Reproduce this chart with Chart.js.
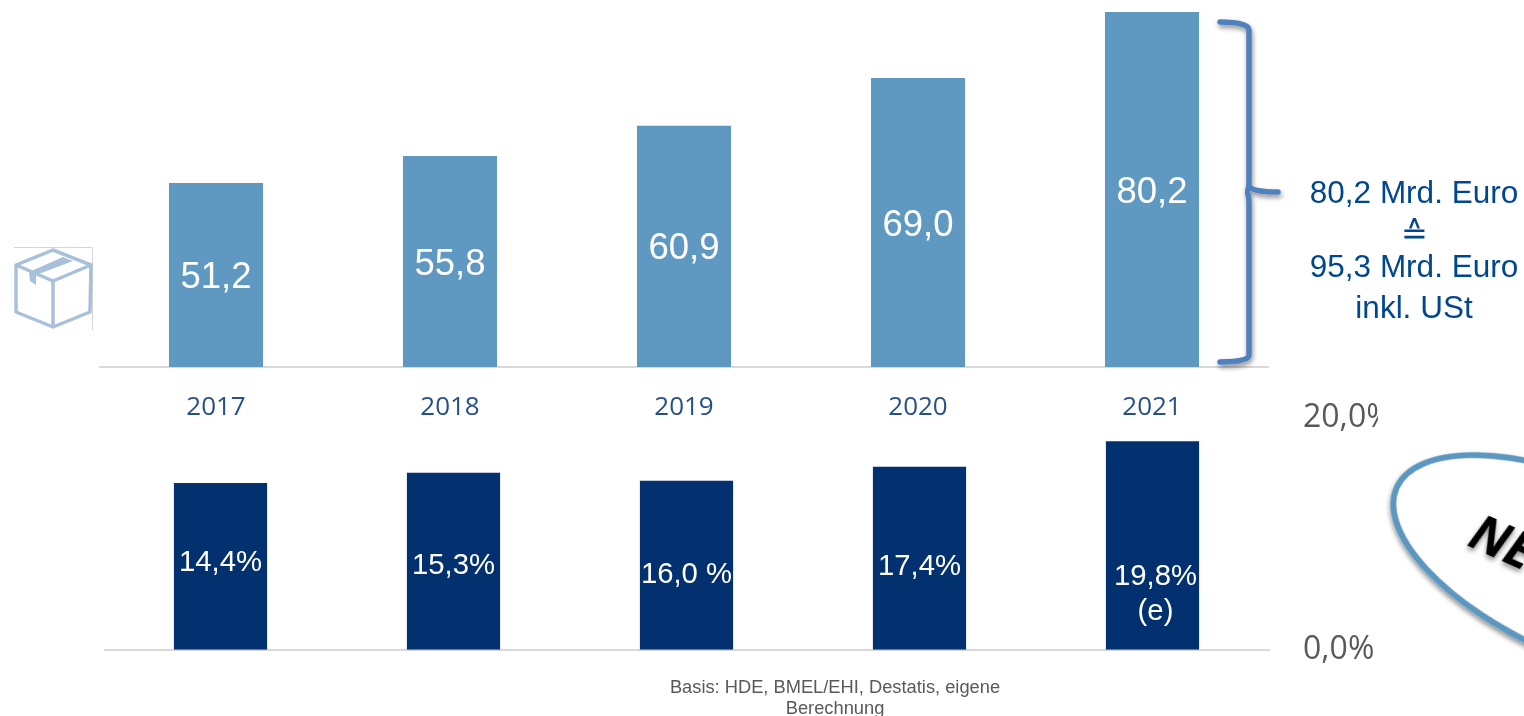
<!DOCTYPE html>
<html lang="de">
<head>
<meta charset="utf-8">
<title>Online-Handel</title>
<script src="https://cdn.jsdelivr.net/npm/chart.js@4"></script>
<style>
  html, body { margin: 0; background: #fff; overflow: hidden; }
  #page { position: relative; width: 1524px; height: 716px; overflow: hidden; }
  canvas { position: absolute; }
  svg { position: absolute; left: 0; top: 0; }
  .note { position: absolute; font-family: "Liberation Sans", Arial, sans-serif; text-align: center; white-space: nowrap; transform: translate(-50%, -50%); }
  .sum { color: #00478f; font-size: 31.5px; }
  .src { color: #595959; font-size: 18.3px; }
</style>
</head>
<body>
<div id="page">
  <canvas id="umsatz-chart" width="1170" height="430" style="left:99px;top:0"></canvas>
  <canvas id="anteil-chart" width="1274" height="338" style="left:104px;top:365px"></canvas>

  <svg width="1524" height="716" viewBox="0 0 1524 716">
    <defs>
      <filter id="schatten" x="-20%" y="-20%" width="140%" height="140%">
        <feDropShadow dx="1" dy="3" stdDeviation="2.5" flood-color="#000" flood-opacity="0.45"/>
      </filter>
    </defs>
    <!-- Klammer rechts -->
    <path d="M1220 22 Q1249 22 1249 30 L1249 182 Q1249 192 1245 192 Q1249 192 1249 202 L1249 355 Q1249 362 1220 362 M1249 186 Q1252 192 1278 192"
          fill="none" stroke="#4f81bd" stroke-width="5.5" stroke-linecap="round" filter="url(#schatten)"/>
    <!-- Paket -->
    <path d="M14 247.5 H92.5 V330" fill="none" stroke="#d4d4d4" stroke-width="1"/>
    <g fill="none" stroke="#a9c0da" stroke-width="3.5" stroke-linejoin="round">
      <path d="M16 265 L53 250 L91 265 L90 312 L53 327 L16 312 Z"/>
      <path d="M16 265 L53 281 L91 265 M53 281 V327"/>
    </g>
    <path d="M29 272 L63 257 L73 261 L36 275 V285 L30 281 Z" fill="#a9c0da"/>
    <!-- NEU-Stempel -->
    <ellipse cx="1584" cy="571" rx="205" ry="88" transform="rotate(24 1584 571)" fill="#fff" stroke="#5b97c0" stroke-width="6" filter="url(#schatten)"/>
    <text x="1466" y="545" transform="rotate(24 1466 545)" font-family="Open Sans" font-weight="700" font-style="italic" font-size="50" fill="#000" filter="url(#schatten)">NEW</text>
  </svg>

  <div class="note sum" style="left:1414px;top:192px">80,2 Mrd. Euro</div>
  <div class="note sum" style="left:1414px;top:233px;font-size:32px">≙</div>
  <div class="note sum" style="left:1414px;top:266px">95,3 Mrd. Euro</div>
  <div class="note sum" style="left:1414px;top:307px">inkl. USt</div>
  <div class="note src" style="left:835px;top:687px">Basis: HDE, BMEL/EHI, Destatis, eigene</div>
  <div class="note src" style="left:835px;top:708px">Berechnung</div>
</div>

<script>
var jahre = ['2017', '2018', '2019', '2020', '2021'];
var umsatz = [51.2, 55.8, 60.9, 69.0, 80.2];
var umsatzLabels = ['51,2', '55,8', '60,9', '69,0', '80,2'];
// die Balkenhoehen passen nicht ueberall zu den Beschriftungen, beides wie im Original
var anteil = [14.4, 15.3, 14.6, 15.8, 18.0];
var anteilLabels = ['14,4%', '15,3%', '16,0 %', '17,4%', '19,8%\n(e)'];
var anteilTicks = ['0,0%', '20,0%'];

// Verschiebung der Beschriftungen gegenueber der Balkenmitte
var anteilShiftY = [-7, 2, 7, 6, 28];
var anteilShiftX = [0, 0, 0, 0, 3];

// Beschriftung in den Balken
var balkenText = {
  id: 'balkenText',
  afterDatasetsDraw: function (chart) {
    var ds = chart.data.datasets[0];
    var ctx = chart.ctx;
    var unten = chart.chartArea.bottom; // bar.base liegt bei abgeschnittener Achse darunter
    ctx.save();
    ctx.fillStyle = '#fff';
    ctx.textAlign = 'center';
    ctx.textBaseline = 'middle';
    ctx.font = ds.textSize + 'px "Liberation Sans"';
    chart.getDatasetMeta(0).data.forEach(function (bar, i) {
      var y = (bar.y + unten) / 2 + 3 + (ds.shiftY ? ds.shiftY[i] : 0);
      var x = bar.x + (ds.shiftX ? ds.shiftX[i] : 0);
      ds.texts[i].split('\n').forEach(function (line, n) {
        ctx.fillText(line, x, y + n * 35);
      });
    });
    ctx.restore();
  }
};

var umsatzChart = new Chart(document.getElementById('umsatz-chart').getContext('2d'), {
  type: 'bar',
  data: {
    labels: jahre,
    datasets: [{
      data: umsatz,
      texts: umsatzLabels,
      textSize: 36.5,
      backgroundColor: '#5f99c2',
      categoryPercentage: 1,
      barPercentage: 0.402
    }]
  },
  plugins: [balkenText],
  options: {
    responsive: false,
    animation: false,
    layout: { padding: { top: 12 } },
    plugins: { legend: { display: false }, tooltip: { enabled: false } },
    scales: {
      x: {
        afterFit: function (s) { s.height = 63; },
        grid: { display: false },
        border: { color: '#d9d9d9', width: 2 },
        ticks: { color: '#27508a', font: { family: 'Open Sans', size: 26 }, padding: 17 }
      },
      y: { display: false, min: 20, max: 80.2 }
    }
  }
});

var anteilChart = new Chart(document.getElementById('anteil-chart').getContext('2d'), {
  type: 'bar',
  data: {
    labels: jahre,
    datasets: [{
      data: anteil,
      texts: anteilLabels,
      textSize: 29.3,
      shiftY: anteilShiftY,
      shiftX: anteilShiftX,
      backgroundColor: '#03306f',
      categoryPercentage: 1,
      barPercentage: 0.4
    }]
  },
  plugins: [balkenText],
  options: {
    responsive: false,
    animation: false,
    layout: { autoPadding: false, padding: { top: 23 } },
    plugins: { legend: { display: false }, tooltip: { enabled: false } },
    scales: {
      x: {
        afterFit: function (s) { s.height = 45; },
        grid: { display: false },
        border: { color: '#d9d9d9', width: 2 },
        ticks: { display: false }
      },
      y: {
        position: 'right',
        min: 0,
        max: 20,
        afterFit: function (s) { s.width = 109; },
        grid: { display: false, drawTicks: false },
        border: { display: false },
        ticks: {
          stepSize: 20,
          padding: 34,
          color: '#595959',
          font: { family: 'Open Sans', size: 32 },
          callback: function (v) { return anteilTicks[v / 20]; }
        }
      }
    }
  }
});
</script>
</body>
</html>
